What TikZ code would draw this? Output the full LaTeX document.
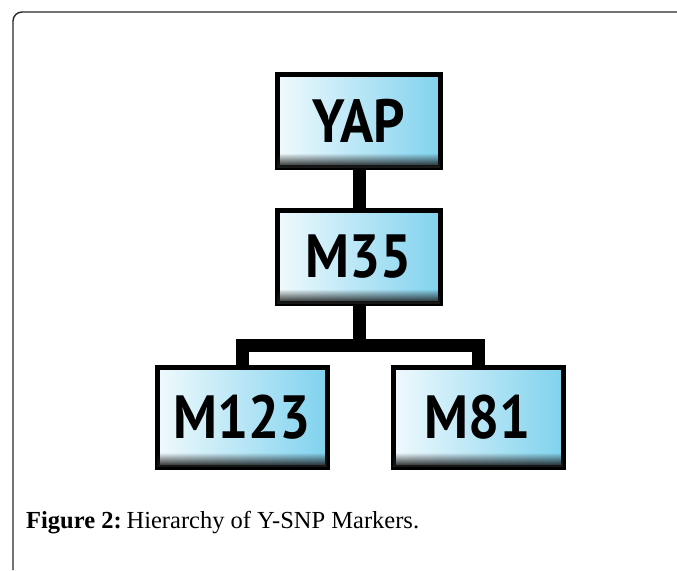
\documentclass[tikz,border=0pt]{standalone}
\usepackage{fontspec}
\setmainfont{Liberation Serif}
\newfontfamily\boxfont[FakeStretch=0.9]{PT Sans Bold}
\usetikzlibrary{fadings}
\definecolor{boxblue}{RGB}{128,210,238}
\tikzset{
  mbox/.style={draw=black, line width=5pt, left color=boxblue!12, right color=boxblue,
    inner sep=0pt, font=\boxfont\fontsize{61}{61}\selectfont, text=black},
  smallbox/.style={mbox, minimum width=163pt, minimum height=93pt},
  bigbox/.style={mbox, minimum width=170pt, minimum height=100pt},
  conn/.style={line width=13pt, black, line join=miter},
  frame/.style={line width=1.4pt, black!85},
}
\newcommand{\boxshadow}[1]{%
  \fill[black!90, path fading=north] ([xshift=2.5pt,yshift=2.5pt]#1.south west) rectangle ([xshift=-2.5pt,yshift=17pt]#1.south east);}
\begin{document}
\begin{tikzpicture}[x=1pt,y=-1pt]
\useasboundingbox (0,0) rectangle (677,570);
\draw[frame] (13,570) -- (13,21) arc[start angle=180, end angle=270, radius=9] -- (677,12);
\coordinate (bar) at (359,345);
\node[smallbox] (yap) at (359,121) {YAP};
\node[smallbox] (m35) at (359,257) {M35};
\node[bigbox] (m123) at (242,417) {M123};
\node[bigbox] (m81) at (478,417) {M81};
\draw[conn] (yap.south) -- (m35.north);
\draw[conn] (m35.south) -- (bar) -| (m123.north);
\draw[conn] (bar) -| (m81.north);
\boxshadow{yap}
\boxshadow{m35}
\boxshadow{m123}
\boxshadow{m81}
\node[anchor=base west, font=\fontsize{24.5}{28}\selectfont, inner sep=0pt] (cap) at (26,528) {\textbf{Figure 2:}\hspace{0.2em}Hierarchy of Y-SNP Markers.};
\end{tikzpicture}
\end{document}
